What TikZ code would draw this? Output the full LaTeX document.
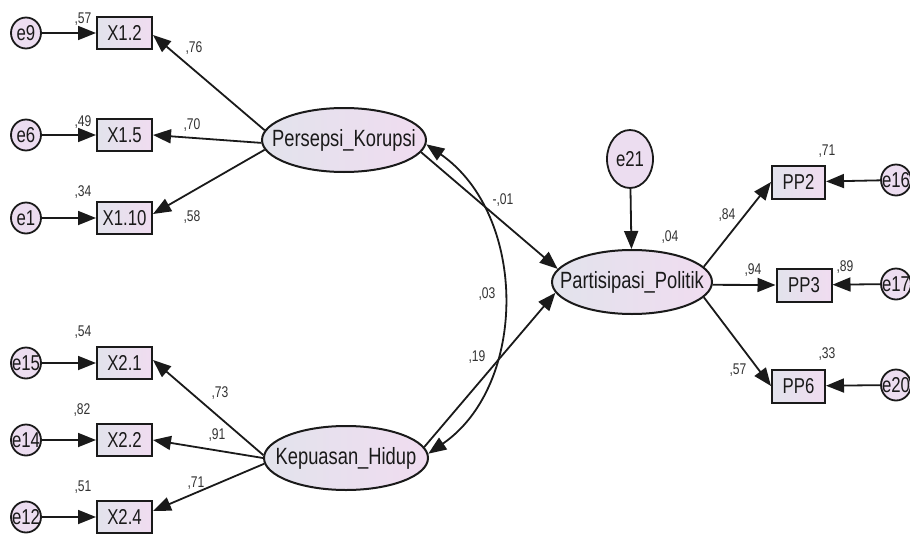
\documentclass[tikz,border=0pt]{standalone}
\usepackage{fontspec}
\setmainfont{Liberation Sans}[FakeStretch=0.78]
\usetikzlibrary{arrows.meta,shapes.geometric,calc}
\definecolor{fillL}{HTML}{E2E3EC}
\definecolor{fillR}{HTML}{F0DCF0}
\definecolor{errfill}{HTML}{ECDDF0}
\definecolor{inkc}{HTML}{1A1A1A}
\newcommand{\mytxt}[1]{\makebox[0pt]{#1}}
\begin{document}
\begin{tikzpicture}[x=1pt,y=-1pt,
  line width=1.8pt, draw=inkc,
  >={Triangle[length=18pt,width=14pt]},
  latent/.style={ellipse, draw=inkc, line width=2pt, minimum width=164pt, minimum height=64pt,
    inner sep=0pt, left color=fillL, right color=fillR, text=inkc, font=\fontsize{23.5}{25}\selectfont},
  obs/.style={rectangle, draw=inkc, line width=2pt, minimum width=55pt, minimum height=32pt,
    inner sep=0pt, left color=fillL, right color=fillR, text=inkc, font=\fontsize{21.5}{23}\selectfont},
  err/.style={ellipse, draw=inkc, line width=1.8pt, minimum width=30pt, minimum height=31pt,
    inner sep=0pt, fill=errfill, text=inkc, font=\fontsize{21.5}{23}\selectfont},
  coef/.style={font=\fontsize{15.5}{17}\selectfont, inner sep=0pt, text=black!80},
  path/.style={->, draw=inkc, line width=1.8pt}
]
\useasboundingbox (0,0) rectangle (910,535);
\fill[white] (0,0) rectangle (910,535);

% left indicators
\node[err] (e9)  at (26,33)  {\mytxt{e9}};
\node[obs] (x12) at (124.5,33) {X1.2};
\node[err] (e6)  at (26,135) {\mytxt{e6}};
\node[obs] (x15) at (124.5,135) {X1.5};
\node[err] (e1)  at (26,218) {\mytxt{e1}};
\node[obs] (x110) at (124.5,218) {X1.10};

\node[err] (e15) at (26,363) {\mytxt{e15}};
\node[obs] (x21) at (124.5,363) {X2.1};
\node[err] (e14) at (26,440) {\mytxt{e14}};
\node[obs] (x22) at (124.5,440) {X2.2};
\node[err] (e12) at (26,517) {\mytxt{e12}};
\node[obs] (x24) at (124.5,517) {X2.4};

% latents
\node[latent] (pk) at (344,140) {\mytxt{Persepsi\_Korupsi}};
\node[latent] (kh) at (346,458) {\mytxt{Kepuasan\_Hidup}};
\node[latent, minimum width=160pt] (pp) at (632,282) {\mytxt{Partisipasi\_Politik}};
\node[err, minimum width=46pt, minimum height=58pt] (e21) at (630,159) {\mytxt{e21}};

% right indicators
\node[obs, minimum width=53pt, minimum height=33pt] (pp2) at (798.5,182) {PP2};
\node[obs, minimum height=33pt] (pp3) at (804,285) {PP3};
\node[obs, minimum width=53pt, minimum height=33pt] (pp6) at (798.5,386) {PP6};
\node[err] (e16) at (896,180) {\mytxt{e16}};
\node[err] (e17) at (896,284) {\mytxt{e17}};
\node[err] (e20) at (896,385) {\mytxt{e20}};

% error arrows
\draw[path] (e9) -- (x12);
\draw[path] (e6) -- (x15);
\draw[path] (e1) -- (x110);
\draw[path] (e15) -- (x21);
\draw[path] (e14) -- (x22);
\draw[path] (e12) -- (x24);
\draw[path] (e16) -- (pp2);
\draw[path] (e17) -- (pp3);
\draw[path] (e20) -- (pp6);
\draw[path] (e21) -- (pp);

% loadings
\draw[path] (pk.173) -- ([yshift=-2pt]x12.east);
\draw[path] (pk.182) -- (x15.east);
\draw[path] (pk.187) -- ([yshift=4pt]x110.east);
\draw[path] (kh.178) -- ([yshift=3pt]x21.east);
\draw[path] (kh.180) -- (x22.east);
\draw[path] (kh.184) -- ([yshift=6pt]x24.east);
\draw[path] (pp.12) -- (pp2.west);
\draw[path] (pp.-2) -- (pp3.west);
\draw[path] (pp.-12) -- (pp6.west);

% structural
\draw[path] (pk.-9) -- (pp.170);
\draw[path] (kh.8) -- (pp.188);
\draw[path,<->] (pk.-3) .. controls (528,215) and (528,385) .. (kh.3);

% coefficients
\node[coef] (c1) at (83,19) {,57};
\node[coef] (c2) at (194,48) {,76};
\node[coef] (c3) at (83,122) {,49};
\node[coef] (c4) at (192,125) {,70};
\node[coef] (c5) at (83,192) {,34};
\node[coef] (c6) at (192,217) {,58};
\node[coef] (c7) at (83,332) {,54};
\node[coef] (c8) at (220,393) {,73};
\node[coef] (c9) at (82,410) {,82};
\node[coef] (c10) at (217,435) {,91};
\node[coef] (c11) at (83,487) {,51};
\node[coef] (c12) at (196,483) {,71};
\node[coef] (c13) at (503,200) {-,01};
\node[coef] (c14) at (487,294) {,03};
\node[coef] (c15) at (477,357) {,19};
\node[coef] (c16) at (670,237) {,04};
\node[coef] (c17) at (727,215) {,84};
\node[coef] (c18) at (753,270) {,94};
\node[coef] (c19) at (738,370) {,57};
\node[coef] (c20) at (827,151) {,71};
\node[coef] (c21) at (845,267) {,89};
\node[coef] (c22) at (827,354) {,33};
\end{tikzpicture}
\end{document}
